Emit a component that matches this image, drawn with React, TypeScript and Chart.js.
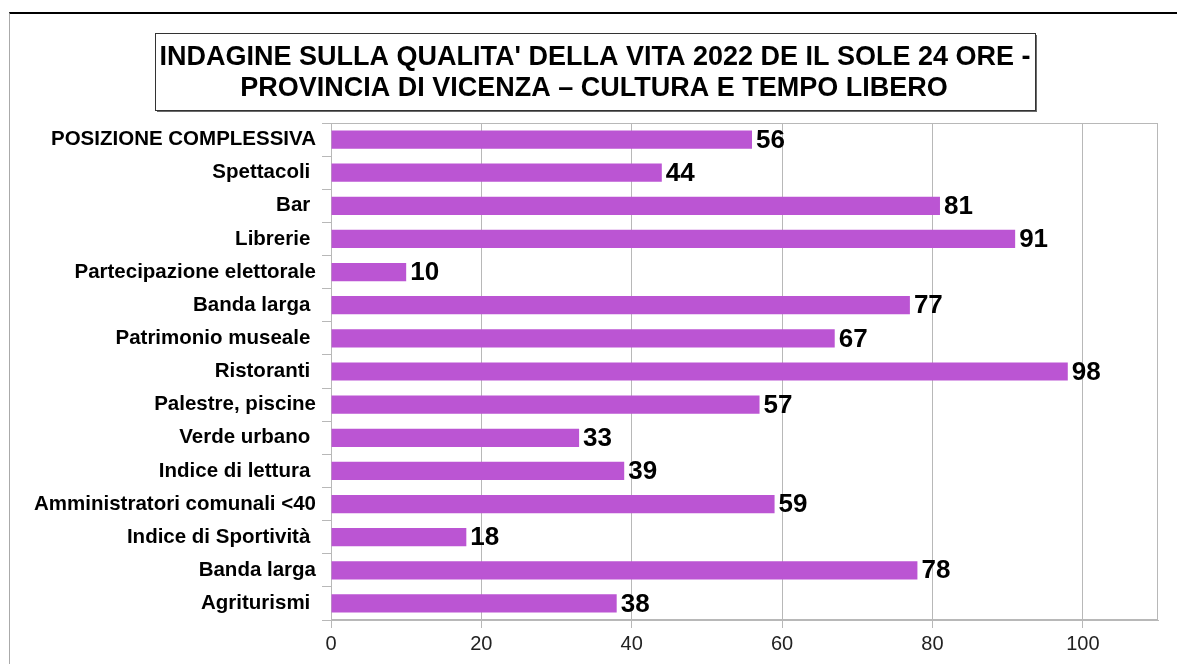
import React, { useEffect, useRef } from "react";
import { Chart, registerables } from "chart.js";

Chart.register(...registerables);

const categories: string[] = [
  "POSIZIONE COMPLESSIVA",
  "Spettacoli ",
  "Bar ",
  "Librerie ",
  "Partecipazione elettorale",
  "Banda larga ",
  "Patrimonio museale ",
  "Ristoranti ",
  "Palestre, piscine",
  "Verde urbano ",
  "Indice di lettura ",
  "Amministratori comunali <40",
  "Indice di Sportività ",
  "Banda larga",
  "Agriturismi ",
];

const values: number[] = [56, 44, 81, 91, 10, 77, 67, 98, 57, 33, 39, 59, 18, 78, 38];

const titleLines: string[] = [
  "INDAGINE SULLA QUALITA' DELLA VITA 2022 DE IL SOLE 24 ORE -",
  "PROVINCIA DI VICENZA – CULTURA E TEMPO LIBERO",
];

const FONT = "'Liberation Sans', Arial, sans-serif";
const GRID = "#b8b8b8";

const titleBoxPlugin = {
  id: "titleBox",
  afterDraw(chart: any) {
    const ctx = chart.ctx;
    ctx.save();
    const x = 155, y = 33, w = 880, h = 77;
    ctx.fillStyle = "#6a6a6a";
    ctx.fillRect(x + 2, y + 2, w, h);
    ctx.fillStyle = "#ffffff";
    ctx.fillRect(x, y, w, h);
    ctx.strokeStyle = "#333333";
    ctx.lineWidth = 1;
    ctx.strokeRect(x + 0.5, y + 0.5, w, h);
    ctx.fillStyle = "#000000";
    ctx.font = `bold 27px ${FONT}`;
    ctx.textAlign = "center";
    ctx.textBaseline = "middle";
    ctx.fillText(titleLines[0], 595, 58);
    ctx.fillText(titleLines[1], 594, 89);
    ctx.restore();
  },
};

const frameAndLabelsPlugin = {
  id: "frameAndLabels",
  beforeDatasetsDraw(chart: any) {
    const { ctx, chartArea } = chart;
    ctx.save();
    ctx.strokeStyle = GRID;
    ctx.lineWidth = 1;
    ctx.strokeRect(
      Math.round(chartArea.left) + 0.5,
      Math.round(chartArea.top) + 0.5,
      Math.round(chartArea.right - chartArea.left) - 1,
      Math.round(chartArea.bottom - chartArea.top) - 1
    );
    ctx.restore();
  },
  afterDatasetsDraw(chart: any) {
    const ctx = chart.ctx;
    const meta = chart.getDatasetMeta(0);
    ctx.save();
    ctx.fillStyle = "#000000";
    ctx.font = `bold 26px ${FONT}`;
    ctx.textAlign = "left";
    ctx.textBaseline = "middle";
    meta.data.forEach((bar: any, i: number) => {
      ctx.fillText(String(values[i]), bar.x + 4, bar.y + 1);
    });
    ctx.restore();
  },
};

export default function App() {
  const canvasRef = useRef<HTMLCanvasElement | null>(null);

  useEffect(() => {
    if (!canvasRef.current) return;
    const chart = new Chart(canvasRef.current, {
      type: "bar",
      data: {
        labels: categories,
        datasets: [
          {
            data: values,
            backgroundColor: "#bb55d3",
            borderWidth: 0,
            barPercentage: 0.55,
            categoryPercentage: 1,
          },
        ],
      },
      options: {
        indexAxis: "y",
        animation: false,
        responsive: false,
        maintainAspectRatio: false,
        layout: { padding: { top: 123, right: 19, left: 0, bottom: 0 } },
        plugins: {
          legend: { display: false },
          title: { display: false },
          tooltip: { enabled: false },
        },
        scales: {
          x: {
            min: 0,
            max: 110,
            afterFit: (scale: any) => {
              scale.height = 44;
            },
            ticks: {
              stepSize: 20,
              includeBounds: false,
              padding: 4,
              color: "#222222",
              font: { family: FONT, size: 20 },
              maxRotation: 0,
            },
            grid: {
              color: GRID,
              tickLength: 8,
              drawOnChartArea: true,
            },
            border: { display: true, color: GRID },
          },
          y: {
            afterFit: (scale: any) => {
              scale.width = 331;
            },
            ticks: {
              padding: 6,
              color: "#000000",
              font: { family: FONT, size: 20.5, weight: "bold" },
              autoSkip: false,
            },
            grid: {
              offset: true,
              color: GRID,
              tickLength: 9,
              drawOnChartArea: false,
            },
            border: { display: true, color: GRID },
          },
        },
      },
      plugins: [frameAndLabelsPlugin, titleBoxPlugin],
    });
    return () => chart.destroy();
  }, []);

  return (
    <div style={{ position: "fixed", left: 0, top: 0, width: 1177, height: 664, background: "#ffffff" }}>
      <div
        style={{
          position: "absolute",
          left: 9,
          top: 12,
          right: 0,
          bottom: 0,
          borderTop: "2px solid #000000",
          borderLeft: "1px solid #aaaaaa",
        }}
      />
      <canvas
        ref={canvasRef}
        width={1177}
        height={664}
        style={{ position: "absolute", left: 0, top: 0, width: 1177, height: 664 }}
      />
    </div>
  );
}
